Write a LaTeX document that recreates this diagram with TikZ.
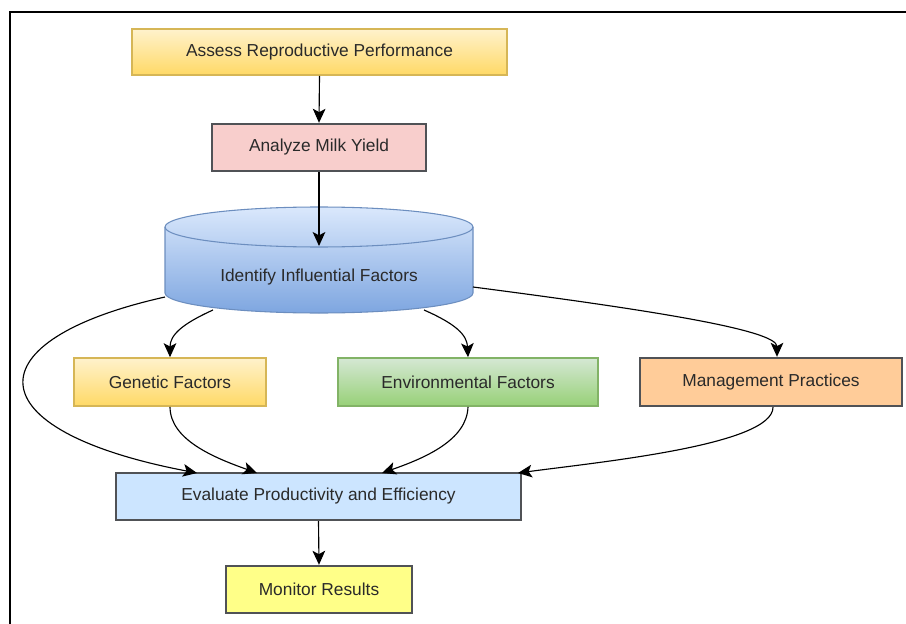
\documentclass[tikz,border=0pt]{standalone}
\usepackage{fontspec}
\setmainfont{Liberation Sans}
\usetikzlibrary{arrows.meta}
\definecolor{yTop}{HTML}{FFF2CC}
\definecolor{yBot}{HTML}{FFD966}
\definecolor{yStr}{HTML}{D6B656}
\definecolor{gTop}{HTML}{D5E8D4}
\definecolor{gBot}{HTML}{97D077}
\definecolor{gStr}{HTML}{82B366}
\definecolor{bTop}{HTML}{DAE8FC}
\definecolor{bBot}{HTML}{7EA6E0}
\definecolor{bStr}{HTML}{6C8EBF}
\definecolor{pinkF}{HTML}{F8CECC}
\definecolor{orF}{HTML}{FFCC99}
\definecolor{lbF}{HTML}{CCE5FF}
\definecolor{ylF}{HTML}{FFFF88}
\definecolor{dStr}{HTML}{505256}
\definecolor{txt}{HTML}{2A2A2A}
\begin{document}
\begin{tikzpicture}[x=0.75pt,y=-0.75pt,
  sz/.style 2 args={minimum width=#1*0.75pt, minimum height=#2*0.75pt},
  box/.style={rectangle, inner sep=0pt, text=txt, font=\fontsize{13}{15}\selectfont},
  yellowbox/.style={box, top color=yTop, bottom color=yBot, draw=yStr, line width=1.2pt},
  greenbox/.style={box, top color=gTop, bottom color=gBot, draw=gStr, line width=1.2pt},
  darkbox/.style={box, draw=dStr, line width=1.8pt},
  conn/.style={draw=black, line width=0.85pt, -{Stealth[length=10.5pt,width=9.5pt,inset=2.5pt]}}
]
\useasboundingbox (0,0) rectangle (906,624);
% frame (cropped)
\draw[line width=1pt] (10,624) -- (10,12) -- (906,12);

% nodes
\node[yellowbox, sz={375}{46}] (assess) at (319.5,52) {Assess Reproductive Performance};
\node[darkbox, fill=pinkF, sz={214}{47}] (milk) at (319,147.5) {Analyze Milk Yield};

% cylinder
\path[top color=bTop, bottom color=bBot, draw=bStr, line width=0.8pt]
  (165,227) -- (165,293) arc[start angle=180, end angle=360, x radius=115.5pt, y radius=15pt]
  -- (473,227) arc[start angle=0, end angle=180, x radius=115.5pt, y radius=15pt] -- cycle;
\draw[bStr, line width=0.8pt] (165,227) arc[start angle=180, end angle=360, x radius=115.5pt, y radius=15pt];
\node[box, sz={308}{106}] (cyl) at (319,260) {};
\node[box] (cyltext) at (319,277) {Identify Influential Factors};
\coordinate (cyltop) at (319,246);
\coordinate (cylgl) at (213,310);
\coordinate (cylgr) at (424,310);
\coordinate (cylr) at (473,287);
\coordinate (cyll) at (165,297);

\node[yellowbox, sz={192}{48}] (gen) at (170,382) {Genetic Factors};
\node[greenbox, sz={260}{48}] (env) at (468,382) {Environmental Factors};
\node[darkbox, fill=orF, sz={262}{48}] (mgmt) at (771,382) {Management Practices};
\node[darkbox, fill=lbF, sz={405}{47}] (eval) at (318.5,496.5) {Evaluate Productivity and Efficiency};
\node[darkbox, fill=ylF, sz={186}{47}] (mon) at (319,589.5) {Monitor Results};

\coordinate (ev1) at (197,473);
\coordinate (ev2) at (257,473);
\coordinate (ev3) at (382,473);
\coordinate (ev4) at (518,473);

% connectors
\draw[conn] (assess.south) -- (milk.north);
\draw[conn] (milk.south) -- (cyltop);
\draw[conn] (cylgl) .. controls (182,324) and (170,335) .. (gen.north);
\draw[conn] (cylgr) .. controls (456,324) and (467,335) .. (env.north);
\draw[conn] (cylr) .. controls (650,310) and (777,330) .. ([xshift=4.5pt]mgmt.north);
\draw[conn] (cyll) .. controls (-28,340) and (-28,430) .. (ev1);
\draw[conn] (gen.south) .. controls (170,440) and (215,458) .. (ev2);
\draw[conn] (env.south) .. controls (467,440) and (425,458) .. (ev3);
\draw[conn] ([xshift=1.5pt]mgmt.south) .. controls (773,445) and (600,462) .. (ev4);
\draw[conn] (eval.south) -- (mon.north);
\end{tikzpicture}
\end{document}
